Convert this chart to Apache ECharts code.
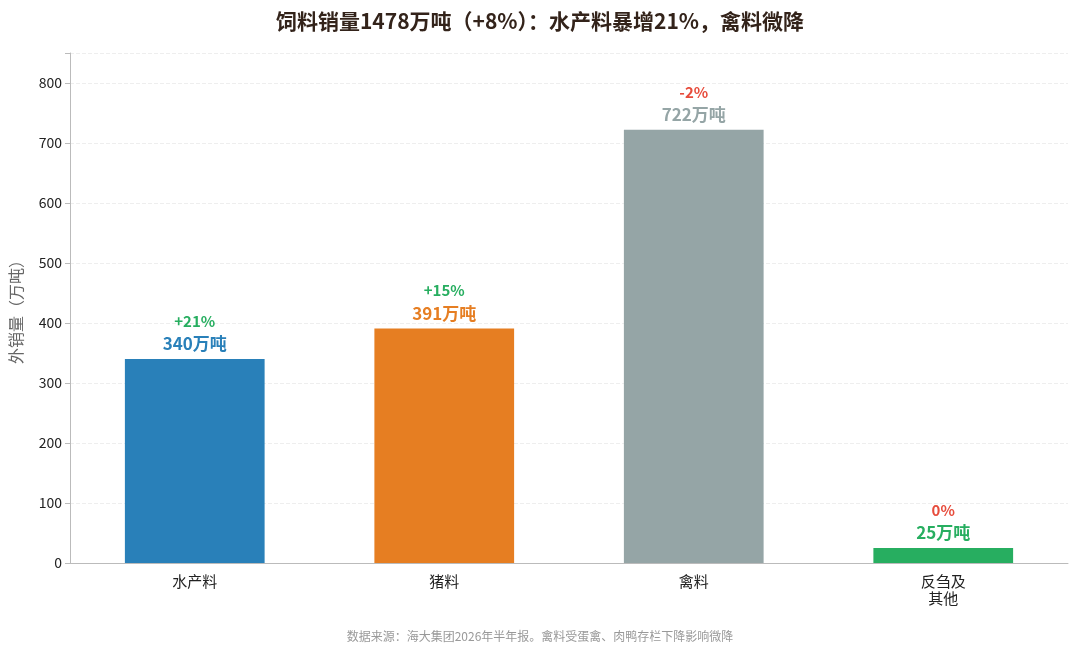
<!DOCTYPE html>
<html><head><meta charset="utf-8">
<script src="https://cdn.jsdelivr.net/npm/echarts@6/dist/echarts.min.js"></script>
<style>html,body{margin:0;padding:0;background:#fff}#c{width:1080px;height:656px}</style>
</head><body><div id="c"></div>
<script>
const categories = ['水产料','猪料','禽料','反刍及\n其他'];
const values = [340, 391, 722, 25];
const changes = ['+21%','+15%','-2%','0%'];
const changeUp = [true, true, false, false];
const colors = ['#2980b9','#e67e22','#95a5a6','#27ae60'];
const font = '"Noto Sans CJK SC","Noto Sans",sans-serif';
const chart = echarts.init(document.getElementById('c'));
chart.setOption({
  title:{text:'饲料销量1478万吨（+8%）：水产料暴增21%，禽料微降',left:'center',top:6,
    textStyle:{fontFamily:font,fontSize:21,fontWeight:'bold',color:'#33231a'}},
  graphic:[{type:'text',left:'center',top:630,style:{text:'数据来源：海大集团2026年半年报。禽料受蛋禽、肉鸭存栏下降影响微降',fontFamily:font,fontSize:12,fill:'#999'}}],
  grid:{left:70,right:12,top:53,bottom:93},
  xAxis:{type:'category',data:categories,axisTick:{show:false},
    axisLine:{lineStyle:{color:'#bbb'}},
    axisLabel:{fontFamily:font,fontSize:15,color:'#222',lineHeight:17,margin:10}},
  yAxis:{type:'value',min:0,max:850,interval:100,name:'外销量（万吨）',nameLocation:'middle',nameGap:46,
    nameTextStyle:{fontFamily:font,fontSize:16,color:'#666'},
    axisLine:{show:true,lineStyle:{color:'#bbb'}},axisTick:{show:true,lineStyle:{color:'#bbb'}},
    axisLabel:{fontFamily:font,fontSize:14,color:'#222',formatter:v=>v%100===0?v:''},
    splitLine:{lineStyle:{type:'dashed',color:'#eee'}}},
  series:[{type:'bar',barWidth:'56%',
    data:values.map((v,i)=>({value:v,itemStyle:{color:colors[i]},
      label:{show:true,position:'top',distance:4,
        formatter:'{c|'+changes[i]+'}\n{v|'+v+'万吨}',
        rich:{c:{fontFamily:font,fontSize:15,fontWeight:'bold',color:changeUp[i]?'#27ae60':'#e74c3c',lineHeight:24},
              v:{fontFamily:font,fontSize:17,fontWeight:'bold',color:colors[i],lineHeight:22}}}}))}]
});
</script></body></html>
